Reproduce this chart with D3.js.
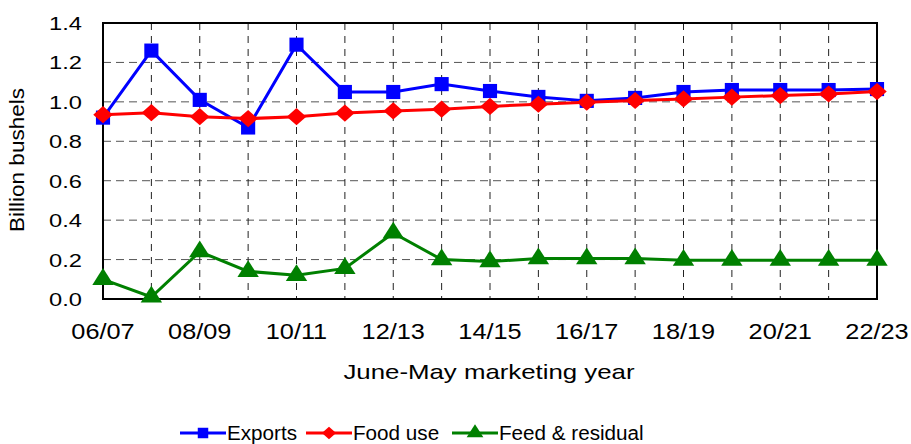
<!DOCTYPE html>
<html>
<head>
<meta charset="utf-8">
<script src="https://cdn.jsdelivr.net/npm/d3@7"></script>
<style>
  body { margin: 0; background: #fff; }
  text { font-family: "Liberation Sans", Arial, sans-serif; fill: #000; }
</style>
</head>
<body>
<script>
var years = ["06/07","07/08","08/09","09/10","10/11","11/12","12/13","13/14","14/15",
             "15/16","16/17","17/18","18/19","19/20","20/21","21/22","22/23"];
var exportsData = [0.92, 1.26, 1.01, 0.87, 1.29, 1.05, 1.05, 1.09, 1.055,
                   1.025, 1.005, 1.02, 1.05, 1.06, 1.06, 1.06, 1.065];
var foodUse = [0.935, 0.945, 0.925, 0.915, 0.925, 0.943, 0.954, 0.963, 0.977,
               0.988, 0.998, 1.007, 1.015, 1.024, 1.032, 1.04, 1.052];
var feedResidual = [0.10, 0.01, 0.24, 0.14, 0.12, 0.155, 0.335, 0.20, 0.19,
                    0.205, 0.205, 0.205, 0.197, 0.197, 0.197, 0.197, 0.197];
var yTicks = [0, 0.2, 0.4, 0.6, 0.8, 1.0, 1.2, 1.4];
var xLabels = ["06/07","08/09","10/11","12/13","14/15","16/17","18/19","20/21","22/23"];

var width = 911, height = 444;
var mLeft = 103, mRight = 877, mTop = 23, mBottom = 299;

var svg = d3.select("body").append("svg")
    .attr("width", width)
    .attr("height", height);

var x = d3.scalePoint().domain(years).range([mLeft, mRight]);
var y = d3.scaleLinear().domain([0, 1.4]).range([mBottom, mTop]);

// the original picture is stretched sideways, so text is widened a bit
function stretchedText(px, py, sx, anchor, size, str) {
  return svg.append("text")
      .attr("transform", "translate(" + px + "," + py + ") scale(" + sx + ",1)")
      .attr("text-anchor", anchor)
      .style("font-size", size + "px")
      .text(str);
}

// grid
svg.selectAll(".hgrid")
    .data(yTicks.slice(1, -1))
  .enter().append("line")
    .attr("x1", mLeft).attr("x2", mRight)
    .attr("y1", function(d){ return y(d); })
    .attr("y2", function(d){ return y(d); })
    .attr("stroke", "#555")
    .attr("stroke-width", 1)
    .attr("stroke-dasharray", "8,5");

svg.selectAll(".vgrid")
    .data(years.slice(1, -1))
  .enter().append("line")
    .attr("x1", function(d){ return x(d); })
    .attr("x2", function(d){ return x(d); })
    .attr("y1", mTop).attr("y2", mBottom)
    .attr("stroke", "#222")
    .attr("stroke-width", 1)
    .attr("stroke-dasharray", "7,6");

svg.append("rect")
    .attr("x", mLeft).attr("y", mTop)
    .attr("width", mRight - mLeft).attr("height", mBottom - mTop)
    .attr("fill", "none")
    .attr("stroke", "#000")
    .attr("stroke-width", 2);

// y axis labels
yTicks.forEach(function(d){
  stretchedText(82, y(d) + 7, 1.28, "end", 18.5, d.toFixed(1));
});

// x axis labels
xLabels.forEach(function(d){
  stretchedText(x(d), 339, 1.15, "middle", 22, d);
});

stretchedText(489, 379, 1.23, "middle", 21, "June-May marketing year");

svg.append("text")
    .attr("transform", "translate(24,160) rotate(-90) scale(1.1,1)")
    .attr("text-anchor", "middle")
    .style("font-size", "20.5px")
    .text("Billion bushels");

var series = [
  { name: "Exports", values: exportsData, color: "#0000ff", shape: d3.symbolSquare, size: 200, rot: "", lsize: 110, lx: 180 },
  { name: "Food use", values: foodUse, color: "#ff0000", shape: d3.symbolSquare, size: 190, rot: " scale(1,0.88) rotate(45)", lsize: 100, lx: 306 },
  { name: "Feed & residual", values: feedResidual, color: "#008000", shape: d3.symbolTriangle, size: 180, rot: " scale(1.05,0.95)", lsize: 110, lx: 452 }
];

var line = d3.line()
    .x(function(d, i){ return x(years[i]); })
    .y(function(d){ return y(d); });

series.forEach(function(s){
  svg.append("path")
      .datum(s.values)
      .attr("d", line)
      .attr("fill", "none")
      .attr("stroke", s.color)
      .attr("stroke-width", 3);

  svg.selectAll(null)
      .data(s.values)
    .enter().append("path")
      .attr("transform", function(d, i){ return "translate(" + x(years[i]) + "," + y(d) + ")" + s.rot; })
      .attr("d", d3.symbol().type(s.shape).size(s.size))
      .attr("fill", s.color);

  // legend
  var ly = 433;
  svg.append("line")
      .attr("x1", s.lx).attr("x2", s.lx + 46)
      .attr("y1", ly).attr("y2", ly)
      .attr("stroke", s.color)
      .attr("stroke-width", 3);
  svg.append("path")
      .attr("transform", "translate(" + (s.lx + 23) + "," + ly + ")" + s.rot)
      .attr("d", d3.symbol().type(s.shape).size(s.lsize))
      .attr("fill", s.color);
  stretchedText(s.lx + 47, ly + 7, 1.06, "start", 19.5, s.name);
});
</script>
</body>
</html>
